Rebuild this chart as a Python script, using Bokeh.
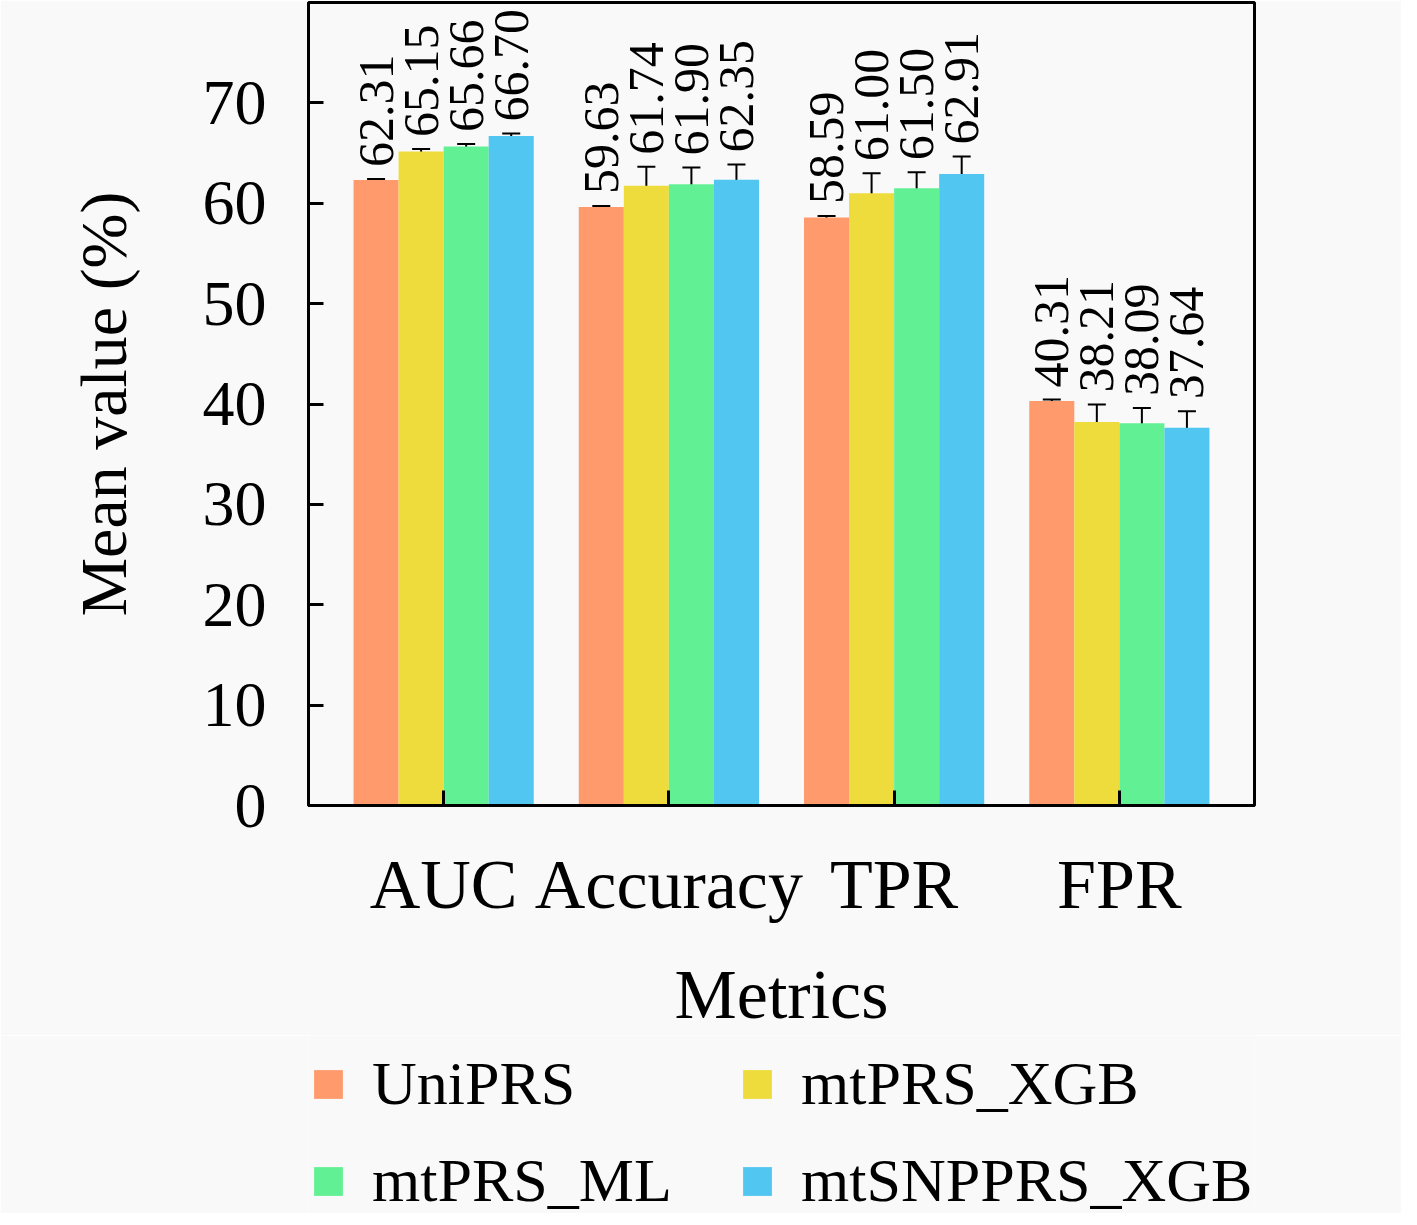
import numpy as np
from bokeh.plotting import figure
from bokeh.layouts import column
from bokeh.models import ColumnDataSource, Whisker, TeeHead, FixedTicker, Legend, LegendItem
from bokeh.core.properties import value
from bokeh.embed import file_html
from bokeh.resources import INLINE

# ---- data ----
metrics = ["AUC", "Accuracy", "TPR", "FPR"]
models = ["UniPRS", "mtPRS_XGB", "mtPRS_ML", "mtSNPPRS_XGB"]
uniprs = [62.31, 59.63, 58.59, 40.31]
mtprs_xgb = [65.15, 61.74, 61.00, 38.21]
mtprs_ml = [65.66, 61.90, 61.50, 38.09]
mtsnpprs_xgb = [66.70, 62.35, 62.91, 37.64]
uniprs_err = [0.10, 0.10, 0.15, 0.15]
mtprs_xgb_err = [0.25, 1.90, 2.00, 1.75]
mtprs_ml_err = [0.25, 1.65, 1.60, 1.50]
mtsnpprs_xgb_err = [0.25, 1.50, 1.75, 1.65]
y_ticks = [0, 10, 20, 30, 40, 50, 60, 70]

series = [uniprs, mtprs_xgb, mtprs_ml, mtsnpprs_xgb]
errors = [uniprs_err, mtprs_xgb_err, mtprs_ml_err, mtsnpprs_xgb_err]
colors = ["#FF9A6C", "#EEDC3C", "#62F095", "#50C6F0"]
offsets = [-0.3, -0.1, 0.1, 0.3]
bar_w = 0.2

FONT = "Liberation Serif"
BG = "#f9f9f9"

p = figure(frame_width=946, frame_height=803, x_range=(0.4, 4.6), y_range=(0, 80.0),
           output_backend="svg", toolbar_location=None,
           min_border_left=308, min_border_right=147, min_border_top=2,
           min_border_bottom=226)
p.background_fill_color = BG
p.border_fill_color = BG
p.outline_line_color = "black"
p.outline_line_width = 3
p.grid.visible = False

base_x = np.arange(1, len(metrics) + 1)
sources = []
for vals, errs, col, off in zip(series, errors, colors, offsets):
    v = np.array(vals)
    e = np.array(errs)
    src = ColumnDataSource(dict(
        x=base_x + off, top=v, upper=v + e, lower=v - e,
        lab=["%.2f" % t for t in vals]))
    sources.append(src)
    p.vbar(x="x", top="top", width=bar_w, bottom=0, source=src,
           fill_color=col, line_color=None)
    w = Whisker(source=src, base="x", upper="upper", lower="lower",
                line_color="black", line_width=2,
                upper_head=TeeHead(size=18, line_width=2, line_color="black"),
                lower_head=TeeHead(size=18, line_width=2, line_color="black"))
    p.add_layout(w)
    p.text(x="x", y="upper", text="lab", source=src, angle=np.pi / 2,
           text_align="left", text_baseline="middle", y_offset=-12,
           text_font=value(FONT), text_font_size="50px", text_color="black")

# axes
p.xaxis.ticker = FixedTicker(ticks=list(base_x))
p.xaxis.major_label_overrides = {int(i): m for i, m in zip(base_x, metrics)}
p.yaxis.ticker = FixedTicker(ticks=y_ticks)
for ax in (p.xaxis[0], p.yaxis[0]):
    ax.major_tick_in = 15
    ax.major_tick_out = 0
    ax.minor_tick_in = 0
    ax.minor_tick_out = 0
    ax.axis_line_width = 3
    ax.major_tick_line_width = 3
    ax.major_label_text_font = FONT
    ax.major_label_text_color = "black"
    ax.axis_label_text_font = FONT
    ax.axis_label_text_font_style = "normal"
    ax.axis_label_text_color = "black"
p.yaxis.major_label_text_font_size = "64px"
p.yaxis.axis_label_text_font_size = "66px"
p.xaxis.major_label_text_font_size = "70px"
p.xaxis.axis_label_text_font_size = "70px"
p.xaxis.axis_label = "Metrics"
p.yaxis.axis_label = "Mean value (%)"
p.yaxis.major_label_standoff = 42
p.yaxis.axis_label_standoff = 60
p.xaxis.major_label_standoff = 40
p.xaxis.axis_label_standoff = 30

# legend strip (separate figure under the chart); its bars lie outside its ranges
lf = figure(width=1401, height=178, output_backend="svg", toolbar_location=None,
            x_range=(100, 101), y_range=(1000, 1001),
            x_axis_location=None, y_axis_location=None,
            min_border_left=0, min_border_right=0, min_border_top=0,
            min_border_bottom=0)
lf.grid.visible = False
lf.outline_line_color = None
lf.background_fill_color = BG
lf.border_fill_color = BG
leg_r = []
for src, col in zip(sources, colors):
    leg_r.append(lf.vbar(x="x", top="top", width=bar_w, source=src,
                         fill_color=col, line_color=None))
items = [LegendItem(label=m, renderers=[r]) for m, r in zip(models, leg_r)]


def mk_legend(its, loc):
    return Legend(items=its, location=loc, orientation="vertical",
                  label_text_font=FONT, label_text_font_size="62px",
                  label_text_color="black",
                  glyph_width=36, glyph_height=36, label_standoff=26,
                  spacing=26, padding=0, margin=0,
                  border_line_color=None, background_fill_alpha=0)


lf.add_layout(mk_legend([items[0], items[2]], (2, -3)), "center")
lf.add_layout(mk_legend([items[1], items[3]], (431, -3)), "center")

layout = column(p, lf, spacing=0)
open("out.html", "w").write(file_html(layout, INLINE))
